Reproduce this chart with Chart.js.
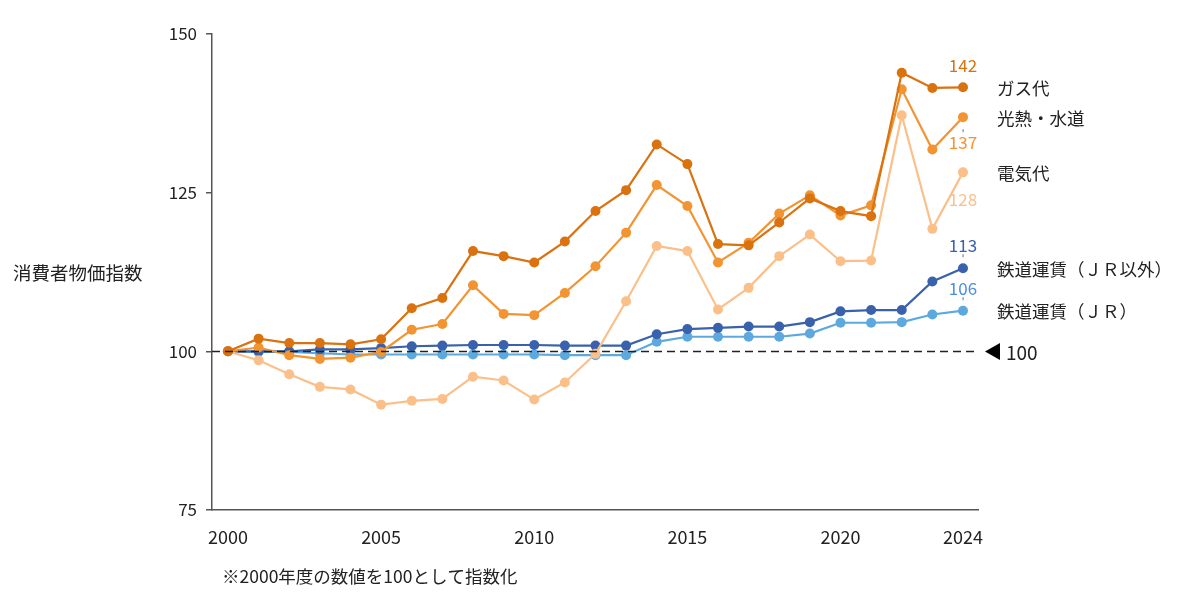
<!DOCTYPE html>
<html>
<head>
<meta charset="utf-8">
<script src="https://cdn.jsdelivr.net/npm/chart.js@4"></script>
<style>
  html, body { margin: 0; padding: 0; background: #fff; }
  #wrap { width: 1200px; height: 598px; position: relative; }
</style>
</head>
<body>
<div id="wrap"><canvas id="chart_cpi"></canvas></div>
<script>
const YEARS = [2000, 2001, 2002, 2003, 2004, 2005, 2006, 2007, 2008, 2009, 2010, 2011, 2012,
  2013, 2014, 2015, 2016, 2017, 2018, 2019, 2020, 2021, 2022, 2023, 2024];
const X_TICKS = [2000, 2005, 2010, 2015, 2020, 2024];

const GAS = [100, 102.0, 101.3, 101.3, 101.1, 101.9, 106.8, 108.4, 115.8, 115.0, 114.0, 117.3, 122.1,
  125.4, 132.6, 129.5, 116.9, 116.7, 120.3, 124.1, 122.1, 121.3, 143.9, 141.5, 141.6];
const UTILITIES = [100, 100.6, 99.4, 98.8, 99.0, 99.9, 103.4, 104.3, 110.4, 105.9, 105.7, 109.2, 113.4,
  118.7, 126.2, 122.9, 114.0, 117.1, 121.7, 124.6, 121.4, 123.0, 141.3, 131.8, 136.9];
const ELECTRICITY = [100, 98.6, 96.4, 94.4, 94.0, 91.6, 92.2, 92.5, 96.0, 95.4, 92.4, 95.1, 99.6,
  107.9, 116.6, 115.8, 106.6, 110.0, 115.0, 118.4, 114.2, 114.3, 137.2, 119.3, 128.2];
const RAIL_OTHER = [100, 100.0, 100.0, 100.3, 100.3, 100.5, 100.8, 100.9, 101.0, 101.0, 101.0, 100.9, 100.9,
  100.9, 102.7, 103.5, 103.7, 103.9, 103.9, 104.6, 106.3, 106.5, 106.5, 111.0, 113.1];
const RAIL_JR = [100, 99.9, 99.9, 99.7, 99.5, 99.5, 99.5, 99.5, 99.5, 99.5, 99.5, 99.4, 99.4,
  99.4, 101.5, 102.3, 102.3, 102.3, 102.3, 102.8, 104.5, 104.5, 104.6, 105.8, 106.4];

const NAMES = ['ガス代', '光熱・水道', '電気代', '鉄道運賃（ＪＲ以外）', '鉄道運賃（ＪＲ）'];
const Y_TITLE = '消費者物価指数';
const NOTE = '※2000年度の数値を100として指数化';
const BASE = 100;

const FONT = "'Noto Sans CJK JP', 'Noto Sans', sans-serif";

// line colour, end-label colour, end-label offset (px from point), leader dash
const STYLES = [
  { line: '#D9720F', label: '#D9720F', dy: -22, leader: false },
  { line: '#F39433', label: '#F39433', dy: 25, leader: true },
  { line: '#FBC08A', label: '#FBC08A', dy: 27, leader: false },
  { line: '#3A62AC', label: '#3A62AC', dy: -23, leader: true },
  { line: '#5DA9DE', label: '#4A8FE3', dy: -22, leader: true }
];

const SERIES = [GAS, UTILITIES, ELECTRICITY, RAIL_OTHER, RAIL_JR];

const toPoints = (vals) => YEARS.map((y, i) => ({ x: y, y: vals[i] }));

const datasets = SERIES.map((vals, i) => ({
  label: NAMES[i],
  data: toPoints(vals),
  borderColor: STYLES[i].line,
  backgroundColor: STYLES[i].line,
  borderWidth: 2.2,
  pointRadius: 5,
  pointBorderWidth: 0,
  pointHoverRadius: 5,
  tension: 0
}));

const annotations = {
  id: 'annotations',
  afterDatasetsDraw(chart) {
    const { ctx, chartArea, scales: { x, y } } = chart;
    ctx.save();

    // 100 reference line
    const yb = Math.round(y.getPixelForValue(BASE)) + 0.5;
    ctx.strokeStyle = '#222';
    ctx.lineWidth = 1.5;
    ctx.setLineDash([8, 5]);
    ctx.beginPath();
    ctx.moveTo(chartArea.left, yb);
    ctx.lineTo(chartArea.right, yb);
    ctx.stroke();
    ctx.setLineDash([]);

    // ◀ 100
    ctx.fillStyle = '#000';
    ctx.beginPath();
    ctx.moveTo(985, yb);
    ctx.lineTo(1000, yb - 8.5);
    ctx.lineTo(1000, yb + 8.5);
    ctx.closePath();
    ctx.fill();
    ctx.font = '19px ' + FONT;
    ctx.textBaseline = 'middle';
    ctx.textAlign = 'left';
    ctx.fillStyle = '#222';
    ctx.fillText(String(BASE), 1006, yb + 1);

    // end labels and series names
    const lastX = x.getPixelForValue(YEARS[YEARS.length - 1]);
    SERIES.forEach((vals, i) => {
      const last = vals[vals.length - 1];
      const py = y.getPixelForValue(last);
      const st = STYLES[i];

      ctx.font = '17px ' + FONT;
      ctx.textAlign = 'center';
      ctx.fillStyle = st.label;
      ctx.fillText(String(Math.round(last)), lastX, py + st.dy);

      if (st.leader) {
        const mid = py + st.dy / 2 + (st.dy > 0 ? 1 : -1);
        ctx.fillStyle = '#888';
        ctx.fillRect(lastX - 0.5, mid - 1.5, 1.2, 3);
      }

      ctx.font = '17.5px ' + FONT;
      ctx.textAlign = 'left';
      ctx.fillStyle = '#222';
      ctx.fillText(NAMES[i], 997, py + 1);
    });

    // axis title and footnote
    ctx.font = '18.5px ' + FONT;
    ctx.textAlign = 'left';
    ctx.fillStyle = '#222';
    ctx.fillText(Y_TITLE, 13, 273);
    ctx.font = '17.5px ' + FONT;
    ctx.fillText(NOTE, 222, 576);

    ctx.restore();
  }
};

new Chart(document.getElementById('chart_cpi'), {
  type: 'line',
  data: { datasets },
  options: {
    responsive: true,
    maintainAspectRatio: false,
    animation: false,
    events: [],
    layout: { padding: { left: 0, right: 222, top: 34, bottom: 0 } },
    plugins: {
      legend: { display: false },
      tooltip: { enabled: false }
    },
    scales: {
      x: {
        type: 'linear',
        min: 1999.478,
        max: 2024.49,
        afterBuildTicks: (scale) => { scale.ticks = X_TICKS.map(v => ({ value: v })); },
        afterFit: (scale) => { scale.height = 88; },
        grid: { display: false },
        border: { display: true, color: '#555', width: 1.5 },
        ticks: {
          color: '#222',
          padding: 8,
          maxRotation: 0,
          autoSkip: false,
          font: { family: FONT, size: 18 },
          callback: (v) => String(v)
        }
      },
      y: {
        min: 75,
        max: 150,
        afterFit: (scale) => { scale.width = 212; },
        grid: { drawOnChartArea: false, tickLength: 6, color: '#555', lineWidth: 1.5 },
        border: { display: true, color: '#555', width: 1.5 },
        ticks: {
          stepSize: 25,
          color: '#222',
          padding: 9,
          font: { family: FONT, size: 17 }
        }
      }
    }
  },
  plugins: [annotations]
});
</script>
</body>
</html>
